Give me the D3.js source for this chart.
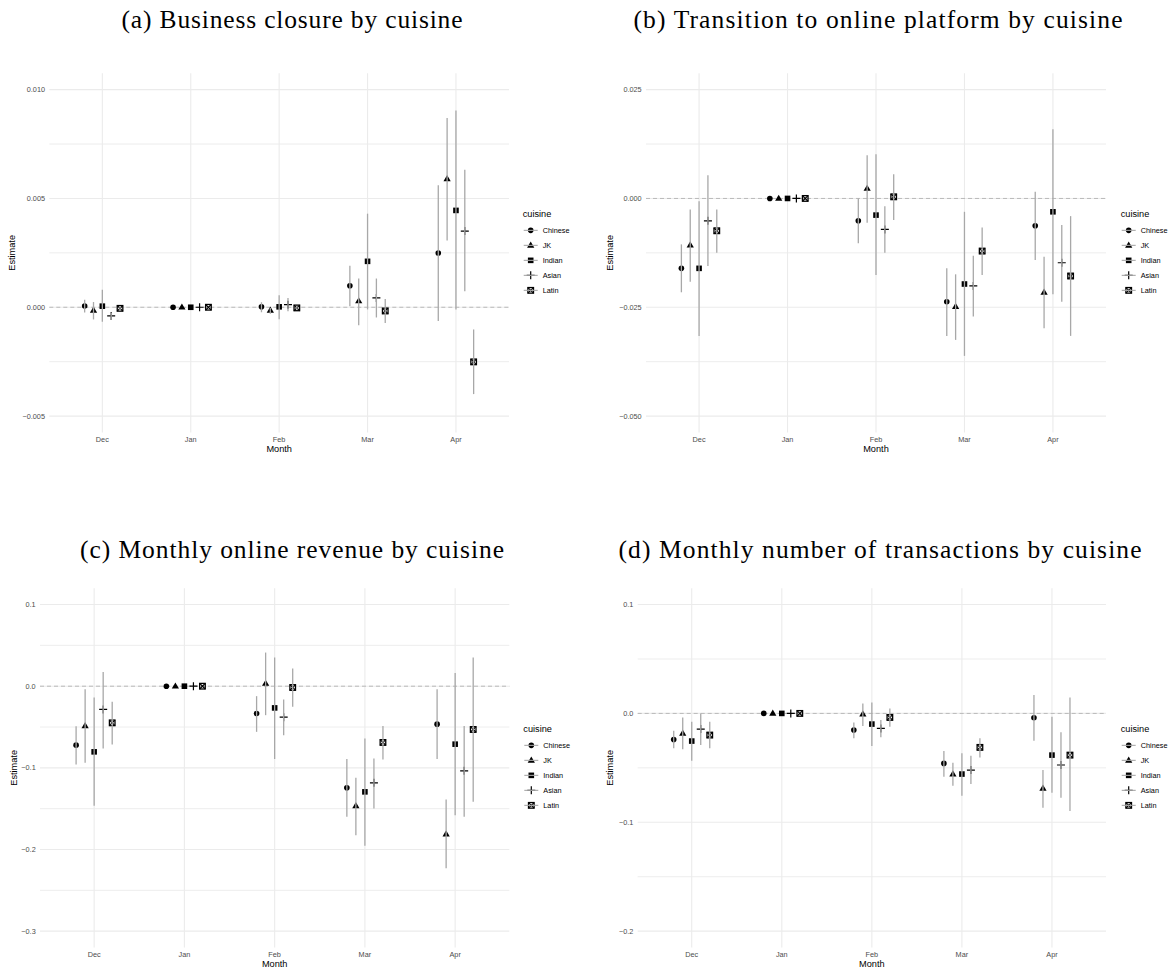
<!DOCTYPE html>
<html><head><meta charset="utf-8">
<script src="https://cdn.jsdelivr.net/npm/d3@7"></script>
<style>body{margin:0;background:#fff} svg{display:block}</style>
</head><body>
<svg id="chart" width="1173" height="973"></svg>
<script>
const months = ["Dec","Jan","Feb","Mar","Apr"];
const cuisines = ["Chinese","JK","Indian","Asian","Latin"];

// (a) Business closure — rows: cuisines, cols: months
const closureEst = [
  [0.00006, 0, 0.00002, 0.00099, 0.00249],
  [-0.00014, 0, -0.00014, 0.00029, 0.0059],
  [0.00005, 0, 0.00002, 0.00211, 0.00445],
  [-0.0004, 0, 0.00012, 0.00043, 0.0035],
  [-0.00005, 0, -0.00003, -0.00017, -0.00251]
];
const closureLow = [
  [-0.00024, 0, -0.00023, 0.00005, -0.00063],
  [-0.00056, 0, -0.0003, -0.00083, 0.00307],
  [-0.00067, 0, -0.00055, -0.0001, -0.0001],
  [-0.00058, 0, -0.00018, -0.00047, 0.00073],
  [-0.00014, 0, -0.0001, -0.00072, -0.00399]
];
const closureHigh = [
  [0.00035, 0, 0.00023, 0.00191, 0.00561],
  [0.00024, 0, -0.00003, 0.00132, 0.0087],
  [0.00081, 0, 0.00055, 0.0043, 0.00904],
  [-0.00025, 0, 0.00043, 0.00132, 0.00632],
  [0.00004, 0, 0.00004, 0.00038, -0.00102]
];

// (b) Transition to online platform
const onlineEst = [
  [-0.01606, 0, -0.00514, -0.02372, -0.00628],
  [-0.01071, 0, 0.00229, -0.02486, -0.02156],
  [-0.01606, 0, -0.00383, -0.01966, -0.00307],
  [-0.00514, 0, -0.00711, -0.02011, -0.01477],
  [-0.00743, 0, 0.00037, -0.01209, -0.01782]
];
const onlineLow = [
  [-0.02156, 0, -0.01032, -0.03158, -0.01415],
  [-0.01912, 0, -0.0056, -0.0325, -0.02982],
  [-0.03158, 0, -0.01759, -0.03617, -0.02202],
  [-0.01553, 0, -0.01248, -0.02715, -0.02372],
  [-0.01248, 0, -0.00498, -0.01759, -0.03158]
];
const onlineHigh = [
  [-0.01055, 0, 0, -0.01606, 0.00151],
  [-0.00252, 0, 0.00993, -0.01743, -0.0134],
  [-0.00062, 0, 0.01016, -0.00307, 0.0159],
  [0.00534, 0, -0.00177, -0.01316, -0.00612],
  [-0.00252, 0, 0.00557, -0.00665, -0.00406]
];

// (c) Monthly online revenue
const revenueEst = [
  [-0.0722, 0, -0.0334, -0.1245, -0.0465],
  [-0.0486, 0, 0.0033, -0.1465, -0.1812],
  [-0.0804, 0, -0.0266, -0.1294, -0.071],
  [-0.0285, 0, -0.0379, -0.1183, -0.1037],
  [-0.0449, 0, -0.0016, -0.0689, -0.053]
];
const revenueLow = [
  [-0.0958, 0, -0.0559, -0.16, -0.0893],
  [-0.0939, 0, -0.0355, -0.1824, -0.2231],
  [-0.1465, 0, -0.0893, -0.1955, -0.1579],
  [-0.0763, 0, -0.06, -0.1497, -0.16],
  [-0.0714, 0, -0.0253, -0.0897, -0.1416]
];
const revenueHigh = [
  [-0.049, 0, -0.0122, -0.0893, -0.0037],
  [-0.0037, 0, 0.0412, -0.1122, -0.1387],
  [-0.0138, 0, 0.0351, -0.064, 0.0163],
  [0.0175, 0, -0.0163, -0.0885, -0.0486],
  [-0.0192, 0, 0.0217, -0.0486, 0.0351]
];

// (d) Monthly number of transactions
const transEst = [
  [-0.0239, 0, -0.0153, -0.0459, -0.004],
  [-0.0183, 0, -0.0006, -0.0557, -0.0688],
  [-0.0254, 0, -0.0098, -0.0557, -0.0383],
  [-0.0144, 0, -0.0138, -0.052, -0.0474],
  [-0.0199, 0, -0.0037, -0.0312, -0.0383]
];
const transLow = [
  [-0.0321, 0, -0.0229, -0.0581, -0.0251],
  [-0.033, 0, -0.0116, -0.0664, -0.0866],
  [-0.0435, 0, -0.03, -0.0756, -0.0728],
  [-0.0291, 0, -0.022, -0.0649, -0.0774],
  [-0.0321, 0, -0.0123, -0.0404, -0.0896]
];
const transHigh = [
  [-0.016, 0, -0.0083, -0.0346, 0.0168],
  [-0.0037, 0, 0.0092, -0.0453, -0.052],
  [-0.0077, 0, 0.0101, -0.0367, -0.0031],
  [0, 0, -0.0061, -0.0389, -0.0174],
  [-0.0077, 0, 0.0046, -0.0229, 0.0147]
];

// tick labels / limits
const closureTicks = [-0.005, 0, 0.005, 0.010];
const onlineTicks = [-0.05, -0.025, 0, 0.025];
const revenueTicks = [-0.3, -0.2, -0.1, 0, 0.1];
const transTicks = [-0.2, -0.1, 0, 0.1];

const titles = [
  "(a) Business closure by cuisine",
  "(b) Transition to online platform by cuisine",
  "(c) Monthly online revenue by cuisine",
  "(d) Monthly number of transactions by cuisine"
];

const panels = [
  {title: titles[0], est: closureEst, low: closureLow, high: closureHigh, ticks: closureTicks, lim: [-0.005, 0.010], fmt: ".3f",
   left: 49.3, right: 509, top: 73.3, bottom: 432.4, tx: 292, ty: 28, tw: 341, legX: 522.7, ylabX: 12},
  {title: titles[1], est: onlineEst, low: onlineLow, high: onlineHigh, ticks: onlineTicks, lim: [-0.05, 0.025], fmt: ".3f",
   left: 646, right: 1106, top: 73.3, bottom: 432.4, tx: 878, ty: 28, tw: 489, legX: 1120.7, ylabX: 610},
  {title: titles[2], est: revenueEst, low: revenueLow, high: revenueHigh, ticks: revenueTicks, lim: [-0.3, 0.1], fmt: ".1f",
   left: 40, right: 509.3, top: 588.2, bottom: 947.5, tx: 292, ty: 558, tw: 424, legX: 523.3, ylabX: 13.3},
  {title: titles[3], est: transEst, low: transLow, high: transHigh, ticks: transTicks, lim: [-0.2, 0.1], fmt: ".1f",
   left: 637.7, right: 1106, top: 588.2, bottom: 947.5, tx: 880, ty: 558, tw: 523, legX: 1120.7, ylabX: 610}
];

const svg = d3.select("#chart");
const sans = "'Liberation Sans', Arial, Helvetica, sans-serif";
const gridCol = "#ebebeb";
const errCol = "#a8a8a8";
const dodge = [-0.2, -0.1, 0, 0.1, 0.2];

function drawShape(g, idx, cx, cy) {
  if (idx === 0) {
    g.append("circle").attr("cx", cx).attr("cy", cy).attr("r", 2.8).attr("fill", "#000");
  } else if (idx === 1) {
    const s = 3.8;
    g.append("path").attr("d", `M${cx},${cy - s}L${cx + s * 0.95},${cy + s * 0.62}L${cx - s * 0.95},${cy + s * 0.62}Z`).attr("fill", "#000");
  } else if (idx === 2) {
    g.append("rect").attr("x", cx - 2.8).attr("y", cy - 2.8).attr("width", 5.6).attr("height", 5.6).attr("fill", "#000");
  } else if (idx === 3) {
    const a = 4;
    g.append("path").attr("d", `M${cx - a},${cy}H${cx + a}M${cx},${cy - a}V${cy + a}`).attr("stroke", "#000").attr("stroke-width", 1.2).attr("fill", "none");
  } else {
    const a = 2.8;
    g.append("rect").attr("x", cx - a).attr("y", cy - a).attr("width", 2 * a).attr("height", 2 * a).attr("fill", "none").attr("stroke", "#000").attr("stroke-width", 1.3);
    g.append("path").attr("d", `M${cx - a},${cy - a}L${cx + a},${cy + a}M${cx + a},${cy - a}L${cx - a},${cy + a}`).attr("stroke", "#000").attr("stroke-width", 1.2);
  }
}

panels.forEach(p => {
  const g = svg.append("g");
  const x = d3.scalePoint().domain(months).range([p.left, p.right]).padding(0.6);
  const span = p.lim[1] - p.lim[0];
  const y = d3.scaleLinear().domain([p.lim[0] - 0.05 * span, p.lim[1] + 0.05 * span]).range([p.bottom, p.top]);
  const step = x.step();

  const minor = [];
  for (let i = 0; i < p.ticks.length - 1; i++) minor.push((p.ticks[i] + p.ticks[i + 1]) / 2);
  g.selectAll(".minor").data(minor).enter().append("line")
    .attr("x1", p.left).attr("x2", p.right)
    .attr("y1", d => y(d)).attr("y2", d => y(d))
    .attr("stroke", gridCol).attr("stroke-width", 0.9);
  g.selectAll(".major").data(p.ticks).enter().append("line")
    .attr("x1", p.left).attr("x2", p.right)
    .attr("y1", d => y(d)).attr("y2", d => y(d))
    .attr("stroke", gridCol).attr("stroke-width", 1.1);
  g.selectAll(".vgrid").data(months).enter().append("line")
    .attr("x1", d => x(d)).attr("x2", d => x(d))
    .attr("y1", p.top).attr("y2", p.bottom)
    .attr("stroke", gridCol).attr("stroke-width", 1.1);

  g.append("line").attr("x1", p.left).attr("x2", p.right)
    .attr("y1", y(0)).attr("y2", y(0))
    .attr("stroke", "#b3b3b3").attr("stroke-width", 0.9).attr("stroke-dasharray", "4,3");

  const fmt = d3.format(p.fmt);
  g.selectAll(".ytick").data(p.ticks).enter().append("text")
    .attr("x", p.left - 4.3).attr("y", d => y(d)).attr("dy", "0.35em")
    .attr("text-anchor", "end").attr("font-family", sans).attr("font-size", 7.3)
    .attr("fill", "#4d4d4d").text(d => fmt(d).replace("-", "\u2212"));
  g.selectAll(".xtick").data(months).enter().append("text")
    .attr("x", d => x(d)).attr("y", p.bottom + 9.8)
    .attr("text-anchor", "middle").attr("font-family", sans).attr("font-size", 7.3)
    .attr("fill", "#4d4d4d").text(d => d);
  g.append("text").attr("x", (p.left + p.right) / 2).attr("y", p.bottom + 19.2)
    .attr("text-anchor", "middle").attr("font-family", sans).attr("font-size", 9.2)
    .attr("fill", "#000").text("Month");
  const cy = (p.top + p.bottom) / 2;
  g.append("text").attr("transform", `translate(${p.ylabX},${cy}) rotate(-90)`)
    .attr("text-anchor", "middle").attr("dy", "0.35em").attr("font-family", sans).attr("font-size", 9.2)
    .attr("fill", "#000").text("Estimate");

  svg.append("text").attr("x", p.tx - p.tw / 2).attr("y", p.ty)
    .attr("textLength", p.tw).attr("lengthAdjust", "spacing")
    .attr("font-family", "'Liberation Serif', 'Times New Roman', serif").attr("font-size", 25.5)
    .attr("fill", "#000").text(p.title);

  cuisines.forEach((c, ci) => {
    months.forEach((m, mi) => {
      drawShape(g, ci, x(m) + dodge[ci] * step, y(p.est[ci][mi]));
    });
  });
  cuisines.forEach((c, ci) => {
    months.forEach((m, mi) => {
      const xx = x(m) + dodge[ci] * step;
      if (p.high[ci][mi] !== p.low[ci][mi]) {
        g.append("line").attr("x1", xx).attr("x2", xx)
          .attr("y1", y(p.low[ci][mi])).attr("y2", y(p.high[ci][mi]))
          .attr("stroke", errCol).attr("stroke-width", 1.3);
      }
    });
  });

  const lg = g.append("g");
  lg.append("text").attr("x", p.legX).attr("y", cy - 39.5).attr("dy", "0.35em")
    .attr("font-family", sans).attr("font-size", 9.2).attr("fill", "#000").text("cuisine");
  cuisines.forEach((c, ci) => {
    const ry = cy - 22.5 + ci * 15;
    drawShape(lg, ci, p.legX + 8, ry);
    lg.append("line").attr("x1", p.legX + 1).attr("x2", p.legX + 15).attr("y1", ry).attr("y2", ry)
      .attr("stroke", errCol).attr("stroke-width", 1.1);
    lg.append("text").attr("x", p.legX + 20).attr("y", ry).attr("dy", "0.35em")
      .attr("font-family", sans).attr("font-size", 7.3).attr("fill", "#000").text(c);
  });
});
</script>
</body></html>
